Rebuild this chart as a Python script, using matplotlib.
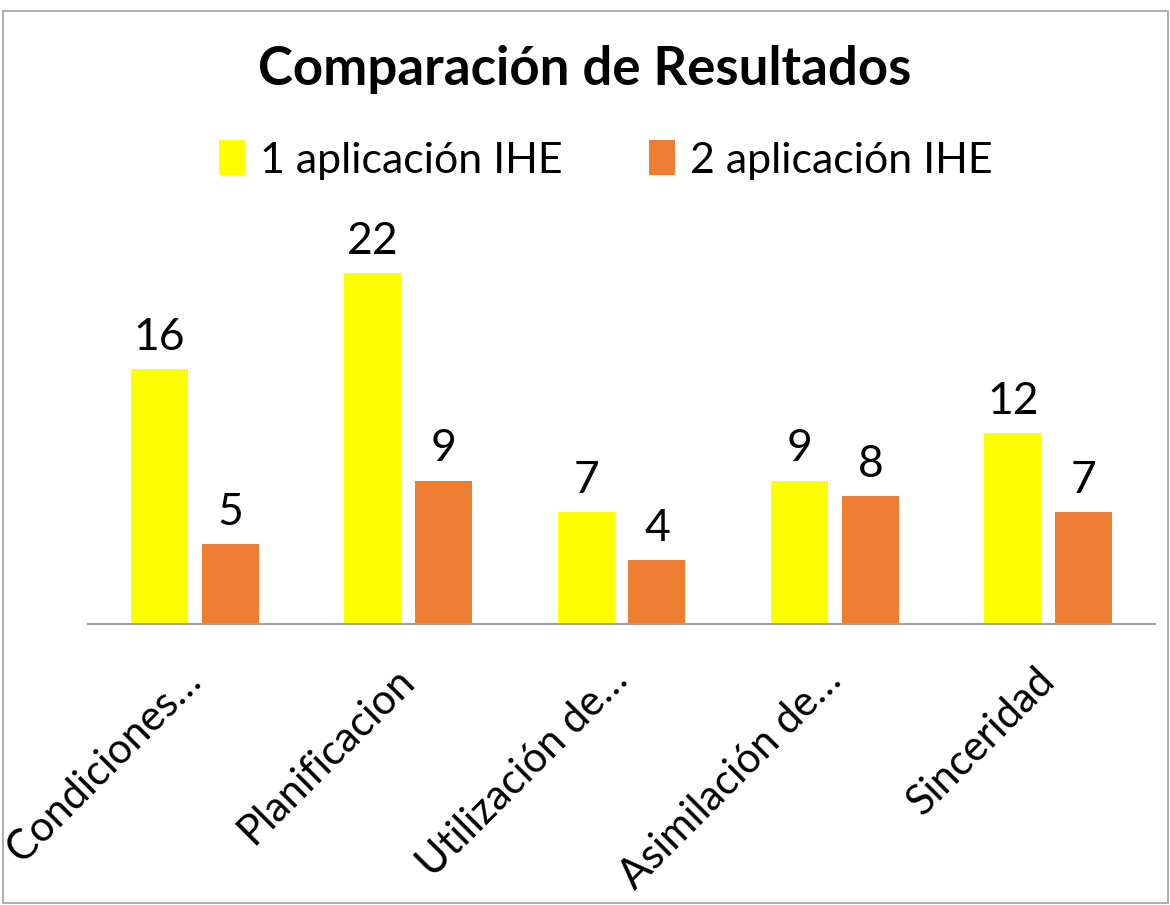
import matplotlib
matplotlib.use("Agg")
import matplotlib.pyplot as plt
import numpy as np
from matplotlib.patches import Rectangle

categories = ["Condiciones…", "Planificacion", "Utilización de…", "Asimilación de…", "Sinceridad"]
serie1_name = "1 aplicación IHE"
serie2_name = "2 aplicación IHE"
serie1 = [16, 22, 7, 9, 12]
serie2 = [5, 9, 4, 8, 7]
title = "Comparación de Resultados"

plt.rcParams['font.family'] = ['Lato', 'DejaVu Sans']

W, H = 1170, 905
fig = plt.figure(figsize=(W/100, H/100), dpi=100)
fig.patch.set_facecolor("white")

# border
fig.add_artist(Rectangle((3/W, 2/H), (W-5)/W, (H-13)/H, transform=fig.transFigure,
                         fill=False, edgecolor="#a0a0a0", linewidth=1.2))

left, right, base_y, top_y = 88, 1155, 624, 200
ax = fig.add_axes([left/W, (H-base_y)/H, (right-left)/W, (base_y-top_y)/H])
ymax = (base_y - top_y) / 15.94
ax.set_ylim(0, ymax)
ax.set_xlim(-0.5, len(categories)-0.5)

x = np.arange(len(categories))
bw = 0.267
off = 0.166
b1 = ax.bar(x-off, serie1, bw, color="#FFFF00", label=serie1_name)
b2 = ax.bar(x+off, serie2, bw, color="#ED7D31", label=serie2_name)

for bars, vals in ((b1, serie1), (b2, serie2)):
    for r, v in zip(bars, vals):
        ax.annotate(str(v), (r.get_x()+r.get_width()/2, v), xytext=(0, 8),
                    textcoords="offset points", ha="center", va="bottom",
                    fontsize=32, color="black")

for s in ("top", "left", "right"):
    ax.spines[s].set_visible(False)
ax.spines["bottom"].set_color("#a0a0a0")
ax.spines["bottom"].set_linewidth(1.5)
ax.set_yticks([])
ax.set_xticks(x)
ax.set_xticklabels(categories, rotation=45, ha="right", va="center",
                   rotation_mode="anchor", fontsize=30)
ax.tick_params(axis="x", length=0, pad=36)

fig.text(0.5, (H-70)/H, title, ha="center", va="center", fontsize=38,
         fontweight="bold")
fig.legend(handles=[b1, b2], loc="center", bbox_to_anchor=(0.518, (H-160)/H),
           ncol=2, frameon=False, fontsize=31, handlelength=0.6, handleheight=0.85,
           handletextpad=0.35, columnspacing=2.0)

fig.savefig("out.png", dpi=100, facecolor="white")
